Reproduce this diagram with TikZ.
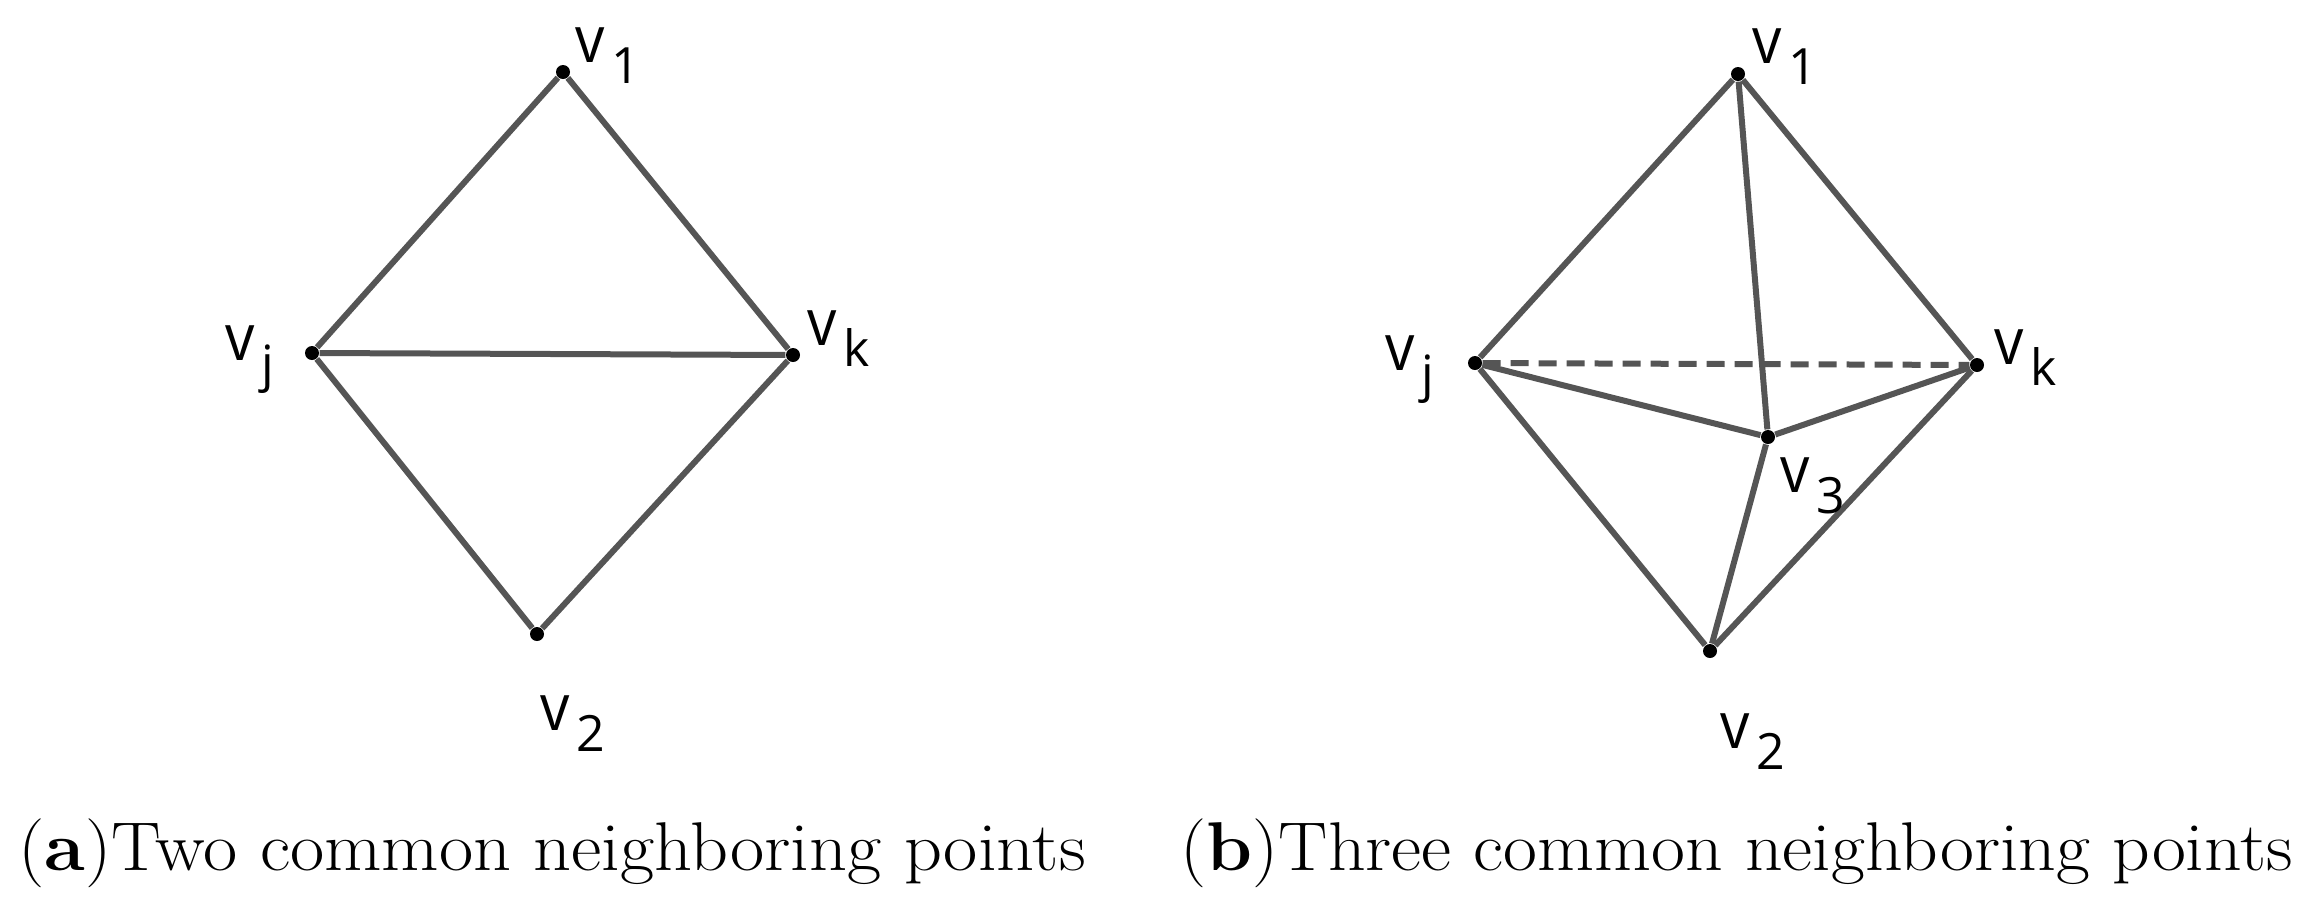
\documentclass[tikz,border=0pt]{standalone}
\usepackage{fontspec}
\newfontfamily\labfont{Open Sans}
\definecolor{edgegray}{HTML}{555555}
\tikzset{
  edge/.style={draw=edgegray, line width=1.8pt},
  dashedge/.style={edge, dash pattern=on 5.4pt off 3pt},
  vert/.style={circle, fill=black, inner sep=0pt, minimum size=4.2pt},
  lab/.style={anchor=base west, inner sep=0pt, font=\labfont\fontsize{19.5pt}{20pt}\selectfont},
  captext/.style={anchor=base west, inner sep=0pt, font=\fontsize{20.7pt}{24pt}\selectfont},
}
\newcommand{\vlab}[1]{\scalebox{0.9}[1]{v}\kern2pt\raisebox{-6.3pt}{\fontsize{15pt}{16pt}\selectfont #1}}
\begin{document}
\begin{tikzpicture}[x=0.3pt, y=-0.3pt]
\useasboundingbox (0,0) rectangle (2321,914);
% ---------- panel (a) ----------
\node[vert] (a1) at (563,72) {};
\node[vert] (aj) at (312,353) {};
\node[vert] (ak) at (793,355) {};
\node[vert] (a2) at (537,634) {};
\draw[edge] (a1) -- (aj);
\draw[edge] (a1) -- (ak);
\draw[edge] (aj) -- (ak);
\draw[edge] (aj) -- (a2);
\draw[edge] (ak) -- (a2);
\node[lab] (la1) at (575,62) {\vlab{1}};
\node[lab] (laj) at (225,360) {\vlab{j}};
\node[lab] (lak) at (807,345) {\vlab{k}};
\node[lab] (la2) at (540,730) {\vlab{2}};
\node[captext] (capa) at (18,870) {\resizebox{320.1pt}{\height}{(\textbf{a})Two common neighboring points}};
% ---------- panel (b) ----------
\node[vert] (b1) at (1738,74) {};
\node[vert] (bj) at (1475,363) {};
\node[vert] (bk) at (1977,365) {};
\node[vert] (b3) at (1768,437) {};
\node[vert] (b2) at (1710,651) {};
\draw[dashedge] (bj) -- (bk);
\draw[edge] (b1) -- (bj);
\draw[edge] (b1) -- (bk);
\draw[edge] (b1) -- (b3);
\draw[edge] (bj) -- (b3);
\draw[edge] (bk) -- (b3);
\draw[edge] (b3) -- (b2);
\draw[edge] (bj) -- (b2);
\draw[edge] (bk) -- (b2);
\node[lab] (lb1) at (1752,63) {\vlab{1}};
\node[lab] (lbj) at (1385,370) {\vlab{j}};
\node[lab] (lbk) at (1994,364) {\vlab{k}};
\node[lab] (lb3) at (1780,492) {\vlab{3}};
\node[lab] (lb2) at (1720,748) {\vlab{2}};
\node[captext] (capb) at (1180,870) {\resizebox{333.6pt}{\height}{(\textbf{b})Three common neighboring points}};
\end{tikzpicture}
\end{document}
